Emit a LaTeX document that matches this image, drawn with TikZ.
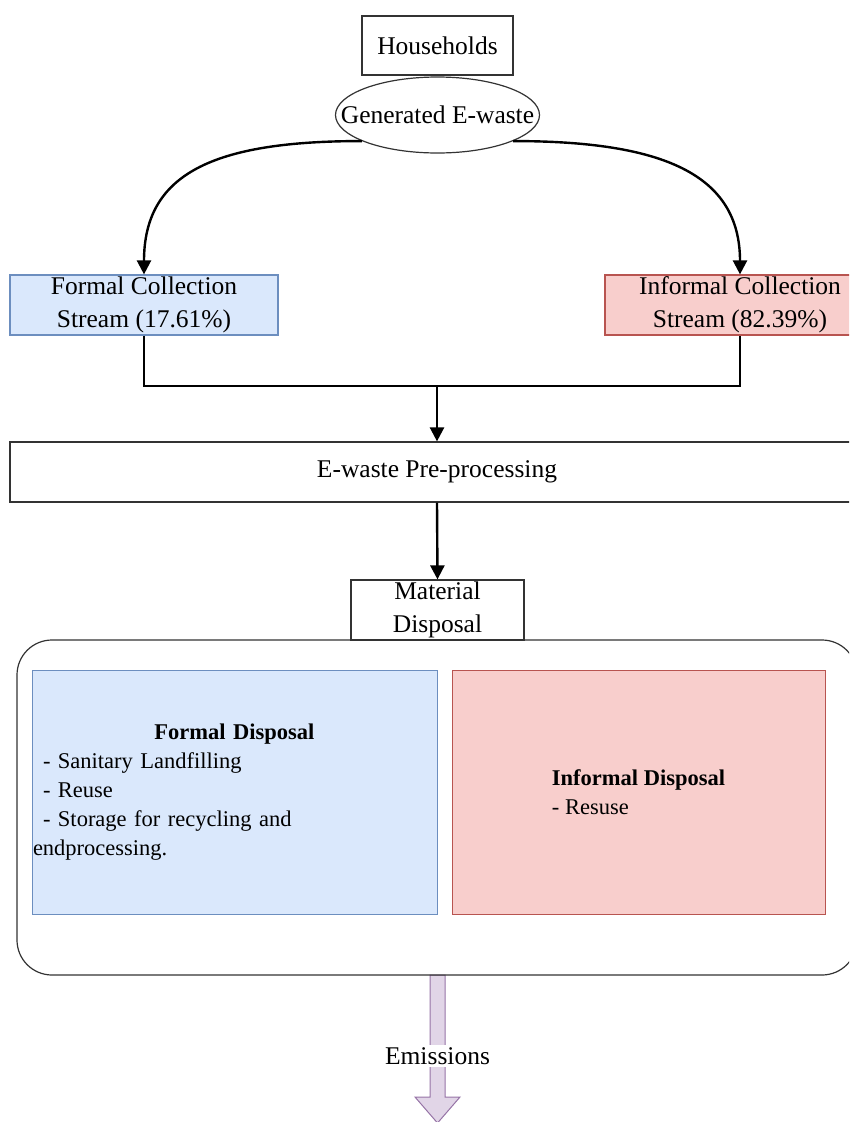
\documentclass[tikz,border=0pt]{standalone}
\usepackage{fontspec}
\setmainfont{Liberation Serif}
\usetikzlibrary{shapes.geometric,arrows.meta}
\definecolor{blueFill}{HTML}{DAE8FC}
\definecolor{blueLine}{HTML}{6C8EBF}
\definecolor{redFill}{HTML}{F8CECC}
\definecolor{redLine}{HTML}{B85450}
\definecolor{purpleFill}{HTML}{E1D5E7}
\definecolor{purpleLine}{HTML}{9673A6}
\begin{document}
\begin{tikzpicture}[x=1pt, y=-1pt,
  box/.style={draw=black!80, line width=1.2pt, fill=white, inner sep=0pt, align=center, font=\fontsize{25.5}{33}\selectfont},
  listbox/.style={line width=1pt, minimum height=244, font=\fontsize{22.5}{29}\selectfont},
  flow/.style={line width=2.4pt, -{Triangle[length=14pt,width=14pt]}}]
\clip (0, 0) rectangle (849, 1122);

\node (hh) at (437.5, 45.5) [box, minimum width=151, minimum height=59] {Households};
\node (gen) at (437.5, 115) [box, ellipse, minimum width=204, minimum height=76] {\makebox[0pt]{Generated E-waste}};
\node (formal) at (144, 305) [box, fill=blueFill, draw=blueLine, minimum width=268, minimum height=60] {Formal Collection\\Stream (17.61\%)};
\node (informal) at (740, 305) [box, fill=redFill, draw=redLine, minimum width=270, minimum height=60] {Informal Collection\\Stream (82.39\%)};
\draw [flow] (gen.199) .. controls +(-150, 0) and +(0, -100) .. (formal.north);
\draw [flow] (gen.341) .. controls +(150, 0) and +(0, -100) .. (informal.north);

\coordinate (join) at (437, 386);
\draw [line width=2.4pt] (formal.south) |- (join) -| (informal.south);
\node (pre) at (437, 472) [box, minimum width=854, minimum height=60] {E-waste Pre-processing};
\draw [flow] (join) -- (pre.north);

\filldraw [fill=purpleFill, draw=purpleLine, line width=1pt] (430, 975) -- (430, 1097) -- (415, 1097) -- (437.5, 1123) -- (460, 1097) -- (445, 1097) -- (445, 975) -- cycle;
\node (disp) at (437, 807.5) [draw=black!80, line width=1.2pt, rounded corners=35pt, minimum width=840, minimum height=335] {};
\node (mat) at (437.5, 610) [box, minimum width=173, minimum height=60] {Material\\Disposal};
\draw [flow] (pre.south) -- (mat.north);

\node (fdisp) at (234.5, 792) [listbox, fill=blueFill, draw=blueLine, inner xsep=1pt, text width=403pt, align=left] {\makebox[403pt]{\textbf{Formal Disposal}}\\
\hspace*{10pt}- Sanitary Landfilling\\
\hspace*{10pt}- Reuse\\
\hspace*{10pt}- Storage for recycling and\\
endprocessing.};
\node (idisp) at (638.5, 792) [listbox, fill=redFill, draw=redLine, minimum width=373, align=left] {\textbf{Informal Disposal}\\- Resuse};

\node (emis) at (437.5, 1056) [fill=white, inner sep=2pt, font=\fontsize{25.5}{33}\selectfont] {Emissions};
\end{tikzpicture}
\end{document}
